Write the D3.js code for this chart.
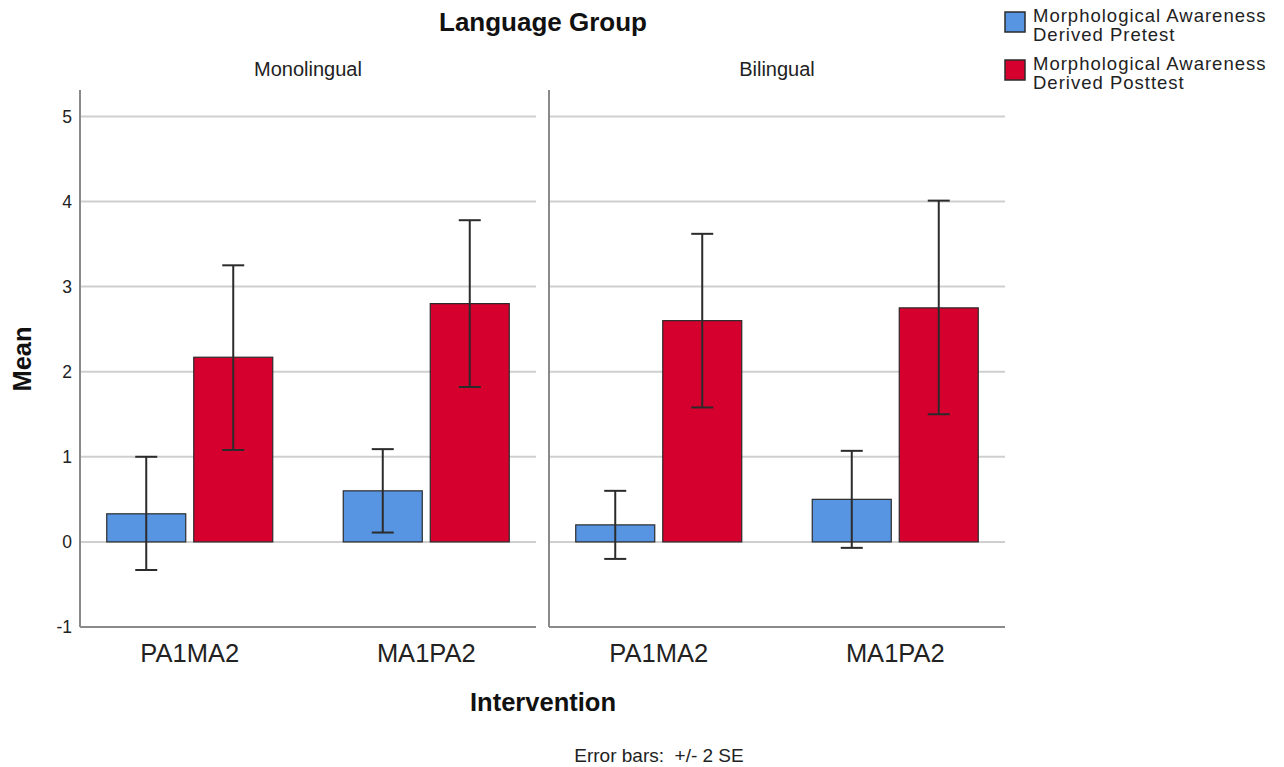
<!DOCTYPE html>
<html>
<head>
<meta charset="utf-8">
<script src="https://cdn.jsdelivr.net/npm/d3@7"></script>
<style>
  html, body { margin: 0; padding: 0; background: #fff; }
  svg { display: block; font-family: "Liberation Sans", Arial, sans-serif; }
</style>
</head>
<body>
<script>
// ---- data ----
const panels = ["Monolingual", "Bilingual"];
const interventions = ["PA1MA2", "MA1PA2"];
const seriesNames = ["Morphological Awareness Derived Pretest", "Morphological Awareness Derived Posttest"];
const legendLines = [["Morphological Awareness", "Derived Pretest"], ["Morphological Awareness", "Derived Posttest"]];
// order: Monolingual PA1MA2, Monolingual MA1PA2, Bilingual PA1MA2, Bilingual MA1PA2
const pretestMean = [0.33, 0.60, 0.20, 0.50];
const pretestLow = [-0.33, 0.11, -0.20, -0.07];
const pretestHigh = [1.00, 1.09, 0.60, 1.07];
const posttestMean = [2.17, 2.80, 2.60, 2.75];
const posttestLow = [1.08, 1.82, 1.58, 1.50];
const posttestHigh = [3.25, 3.78, 3.62, 4.01];
const yTicks = [-1, 0, 1, 2, 3, 4, 5];
const gridTicks = [0, 1, 2, 3, 4, 5];
const colors = ["#5795e3", "#d5002e"];

(function () {
const W = 1284, H = 767;
const svg = d3.select("body").append("svg").attr("width", W).attr("height", H);

const rows = [];
panels.forEach((p, pi) => interventions.forEach((c, ci) => {
  const i = pi * 2 + ci;
  rows.push({ panel: p, cat: c, series: seriesNames[0], mean: pretestMean[i], lo: pretestLow[i], hi: pretestHigh[i] });
  rows.push({ panel: p, cat: c, series: seriesNames[1], mean: posttestMean[i], lo: posttestLow[i], hi: posttestHigh[i] });
}));

const xPanel = d3.scaleBand().domain(panels).range([80, 1005]).paddingInner(13 / 469).paddingOuter(0);
const xCat = d3.scalePoint().domain(interventions).range([0, xPanel.bandwidth()]).padding(0.464);
const xSer = d3.scaleBand().domain(seriesNames).range([-83, 83]).paddingInner(8 / 87);
const y = d3.scaleLinear().domain([-1, 5.31]).range([627, 90]);
const color = d3.scaleOrdinal().domain(seriesNames).range(colors);

const plotTop = y.range()[1], plotBottom = y.range()[0];

panels.forEach((p, pi) => {
  const g = svg.append("g").attr("transform", `translate(${xPanel(p)},0)`);
  const bw = xPanel.bandwidth();
  g.selectAll("line.grid").data(gridTicks).join("line")
    .attr("x1", 0).attr("x2", bw)
    .attr("y1", d => y(d)).attr("y2", d => y(d))
    .attr("stroke", "#cfcfcf").attr("stroke-width", 2);
  g.append("line").attr("x1", 0).attr("x2", 0).attr("y1", plotTop).attr("y2", plotBottom)
    .attr("stroke", "#8a8a8a").attr("stroke-width", 2);
  g.append("line").attr("x1", 0).attr("x2", bw).attr("y1", plotBottom).attr("y2", plotBottom)
    .attr("stroke", "#8a8a8a").attr("stroke-width", 2);
  g.append("text").attr("x", bw / 2).attr("y", 76).attr("text-anchor", "middle")
    .attr("font-size", 20).attr("fill", "#222").text(p);
  g.selectAll("text.xt").data(interventions).join("text")
    .attr("x", d => xCat(d)).attr("y", 662).attr("text-anchor", "middle")
    .attr("font-size", 25.5).attr("fill", "#222").text(d => d);

  const data = rows.filter(r => r.panel === p);
  g.selectAll("rect.bar").data(data).join("rect")
    .attr("x", d => xCat(d.cat) + xSer(d.series))
    .attr("width", xSer.bandwidth())
    .attr("y", d => y(Math.max(0, d.mean)))
    .attr("height", d => Math.abs(y(d.mean) - y(0)))
    .attr("fill", d => color(d.series))
    .attr("stroke", "#2b2b2b").attr("stroke-width", 1.2);
  const eb = g.selectAll("g.eb").data(data).join("g")
    .attr("transform", d => `translate(${xCat(d.cat) + xSer(d.series) + xSer.bandwidth() / 2},0)`);
  eb.append("line").attr("x1", 0).attr("x2", 0)
    .attr("y1", d => y(d.lo)).attr("y2", d => y(d.hi))
    .attr("stroke", "#2b2b2b").attr("stroke-width", 2);
  eb.append("line").attr("x1", -11).attr("x2", 11)
    .attr("y1", d => y(d.hi)).attr("y2", d => y(d.hi))
    .attr("stroke", "#2b2b2b").attr("stroke-width", 2);
  eb.append("line").attr("x1", -11).attr("x2", 11)
    .attr("y1", d => y(d.lo)).attr("y2", d => y(d.lo))
    .attr("stroke", "#2b2b2b").attr("stroke-width", 2);
});

svg.selectAll("text.yt").data(yTicks).join("text")
  .attr("x", 72).attr("y", d => y(d)).attr("dy", "0.35em")
  .attr("text-anchor", "end").attr("font-size", 17.5).attr("fill", "#222")
  .text(d => d);

svg.append("text").attr("x", 543).attr("y", 31).attr("text-anchor", "middle")
  .attr("font-size", 26).attr("font-weight", "bold").attr("fill", "#111").text("Language Group");
svg.append("text").attr("x", 543).attr("y", 711).attr("text-anchor", "middle")
  .attr("font-size", 25.5).attr("font-weight", "bold").attr("fill", "#111").text("Intervention");
svg.append("text").attr("transform", "translate(31,359) rotate(-90)").attr("text-anchor", "middle")
  .attr("font-size", 25.5).attr("font-weight", "bold").attr("fill", "#111").text("Mean");
svg.append("text").attr("x", 659).attr("y", 762).attr("text-anchor", "middle")
  .attr("font-size", 19).attr("fill", "#222").style("white-space", "pre")
  .text("Error bars:  +/- 2 SE");

const lg = svg.selectAll("g.lg").data(seriesNames).join("g")
  .attr("transform", (d, i) => `translate(1005,${12 + i * 48})`);
lg.append("rect").attr("x", 0).attr("y", 0).attr("width", 20).attr("height", 20)
  .attr("fill", d => color(d)).attr("stroke", "#2b2b2b").attr("stroke-width", 1.5);
lg.each(function (d, i) {
  const g = d3.select(this);
  legendLines[i].forEach((line, li) => {
    g.append("text").attr("font-size", 18.5).attr("fill", "#222")
      .attr("letter-spacing", 1).attr("x", 28).attr("y", 10 + li * 19).text(line);
  });
});
})();
</script>
</body>
</html>
